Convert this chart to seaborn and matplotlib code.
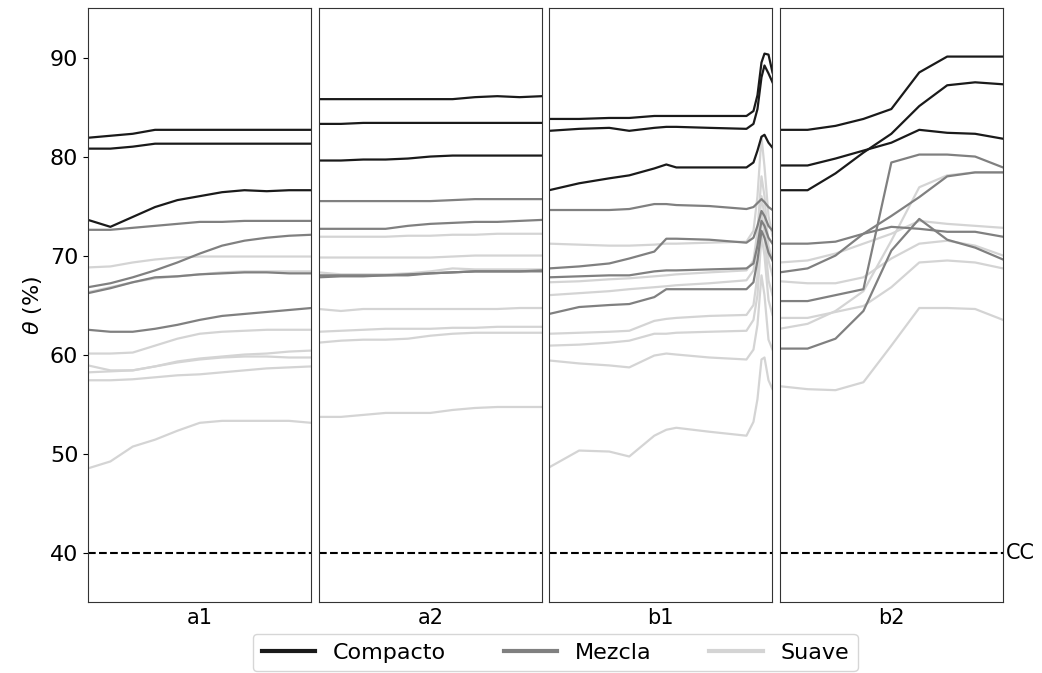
import pandas as pd
import matplotlib
matplotlib.use('Agg')
import matplotlib.pyplot as plt
import matplotlib.transforms as mtransforms
from matplotlib.lines import Line2D
import seaborn as sns

# x positions per panel
x_a1 = [0, 1, 2, 3, 4, 5, 6, 7, 8, 9, 10]
x_a2 = [0, 1, 2, 3, 4, 5, 6, 7, 8, 9, 10]
x_b1 = [0, 30, 60, 80, 105, 117, 127, 160, 197, 204, 208, 212, 215, 219, 223]
x_b2 = [0, 1, 2, 3, 4, 5, 6, 7, 8]

# panel a1
a1_compacto = [
    [81.9, 82.1, 82.3, 82.7, 82.7, 82.7, 82.7, 82.7, 82.7, 82.7, 82.7],
    [80.8, 80.8, 81.0, 81.3, 81.3, 81.3, 81.3, 81.3, 81.3, 81.3, 81.3],
    [73.6, 72.9, 73.9, 74.9, 75.6, 76.0, 76.4, 76.6, 76.5, 76.6, 76.6],
]
a1_mezcla = [
    [72.6, 72.6, 72.8, 73.0, 73.2, 73.4, 73.4, 73.5, 73.5, 73.5, 73.5],
    [66.8, 67.2, 67.8, 68.5, 69.3, 70.2, 71.0, 71.5, 71.8, 72.0, 72.1],
    [66.2, 66.7, 67.3, 67.8, 67.9, 68.1, 68.2, 68.3, 68.3, 68.2, 68.2],
    [62.5, 62.3, 62.3, 62.6, 63.0, 63.5, 63.9, 64.1, 64.3, 64.5, 64.7],
]
a1_suave = [
    [68.8, 68.9, 69.3, 69.6, 69.8, 69.9, 69.9, 69.9, 69.9, 69.9, 69.9],
    [66.3, 66.8, 67.3, 67.7, 67.9, 68.1, 68.3, 68.4, 68.4, 68.4, 68.4],
    [60.1, 60.1, 60.2, 60.9, 61.6, 62.1, 62.3, 62.4, 62.5, 62.5, 62.5],
    [58.9, 58.4, 58.4, 58.8, 59.2, 59.5, 59.7, 59.8, 59.8, 59.7, 59.7],
    [58.2, 58.3, 58.4, 58.8, 59.3, 59.6, 59.8, 60.0, 60.1, 60.3, 60.4],
    [57.4, 57.4, 57.5, 57.7, 57.9, 58.0, 58.2, 58.4, 58.6, 58.7, 58.8],
    [48.5, 49.2, 50.7, 51.4, 52.3, 53.1, 53.3, 53.3, 53.3, 53.3, 53.1],
]

# panel a2
a2_compacto = [
    [85.8, 85.8, 85.8, 85.8, 85.8, 85.8, 85.8, 86.0, 86.1, 86.0, 86.1],
    [83.3, 83.3, 83.4, 83.4, 83.4, 83.4, 83.4, 83.4, 83.4, 83.4, 83.4],
    [79.6, 79.6, 79.7, 79.7, 79.8, 80.0, 80.1, 80.1, 80.1, 80.1, 80.1],
]
a2_mezcla = [
    [75.5, 75.5, 75.5, 75.5, 75.5, 75.5, 75.6, 75.7, 75.7, 75.7, 75.7],
    [72.7, 72.7, 72.7, 72.7, 73.0, 73.2, 73.3, 73.4, 73.4, 73.5, 73.6],
    [68.0, 68.0, 68.0, 68.0, 68.1, 68.2, 68.3, 68.4, 68.4, 68.4, 68.4],
    [67.8, 67.9, 67.9, 68.0, 68.0, 68.2, 68.3, 68.4, 68.4, 68.4, 68.5],
]
a2_suave = [
    [71.9, 71.9, 71.9, 71.9, 72.0, 72.0, 72.1, 72.1, 72.2, 72.2, 72.2],
    [69.8, 69.8, 69.8, 69.8, 69.8, 69.8, 69.9, 70.0, 70.0, 70.0, 70.0],
    [68.3, 68.1, 68.1, 68.1, 68.2, 68.4, 68.7, 68.6, 68.6, 68.6, 68.6],
    [64.6, 64.4, 64.6, 64.6, 64.6, 64.6, 64.6, 64.6, 64.6, 64.7, 64.7],
    [62.3, 62.4, 62.5, 62.6, 62.6, 62.6, 62.7, 62.7, 62.8, 62.8, 62.8],
    [61.2, 61.4, 61.5, 61.5, 61.6, 61.9, 62.1, 62.2, 62.2, 62.2, 62.2],
    [53.7, 53.7, 53.9, 54.1, 54.1, 54.1, 54.4, 54.6, 54.7, 54.7, 54.7],
]

# panel b1
b1_compacto = [
    [83.8, 83.8, 83.9, 83.9, 84.1, 84.1, 84.1, 84.1, 84.1, 84.6, 86.2, 89.5, 90.4, 90.3, 88.5],
    [82.6, 82.8, 82.9, 82.6, 82.9, 83.0, 83.0, 82.9, 82.8, 83.3, 84.8, 88.0, 89.2, 88.4, 87.5],
    [76.6, 77.3, 77.8, 78.1, 78.8, 79.2, 78.9, 78.9, 78.9, 79.4, 80.6, 82.0, 82.2, 81.4, 80.9],
]
b1_mezcla = [
    [74.6, 74.6, 74.6, 74.7, 75.2, 75.2, 75.1, 75.0, 74.7, 74.9, 75.3, 75.7, 75.4, 74.9, 74.6],
    [68.7, 68.9, 69.2, 69.7, 70.4, 71.7, 71.7, 71.6, 71.3, 71.8, 73.0, 74.5, 74.0, 73.0, 72.5],
    [67.8, 67.9, 68.0, 68.0, 68.4, 68.5, 68.5, 68.6, 68.7, 69.2, 71.0, 73.5, 73.0, 71.8, 71.2],
    [64.1, 64.8, 65.0, 65.1, 65.8, 66.6, 66.6, 66.6, 66.6, 67.3, 69.5, 72.5, 71.8, 70.3, 69.5],
]
b1_suave = [
    [71.2, 71.1, 71.0, 71.0, 71.1, 71.2, 71.2, 71.3, 71.4, 72.5, 76.0, 82.0, 79.0, 74.0, 72.0],
    [67.3, 67.4, 67.6, 67.7, 67.9, 68.0, 68.1, 68.3, 68.5, 69.5, 72.5, 78.0, 76.0, 71.0, 69.5],
    [66.0, 66.2, 66.4, 66.6, 66.8, 66.9, 67.0, 67.2, 67.5, 68.5, 71.0, 76.0, 74.0, 69.5, 68.0],
    [62.1, 62.2, 62.3, 62.4, 63.4, 63.6, 63.7, 63.9, 64.0, 65.0, 68.0, 74.5, 72.0, 67.5, 66.0],
    [60.9, 61.0, 61.2, 61.4, 62.1, 62.1, 62.2, 62.3, 62.4, 63.5, 66.0, 72.0, 70.0, 65.5, 64.0],
    [59.4, 59.1, 58.9, 58.7, 59.9, 60.1, 60.0, 59.7, 59.5, 60.5, 63.0, 68.0, 66.0, 61.5, 60.5],
    [48.6, 50.3, 50.2, 49.7, 51.8, 52.4, 52.6, 52.2, 51.8, 53.2, 55.5, 59.5, 59.7, 57.4, 56.5],
]

# panel b2
b2_compacto = [
    [82.7, 82.7, 83.1, 83.8, 84.8, 88.5, 90.1, 90.1, 90.1],
    [79.1, 79.1, 79.8, 80.6, 81.4, 82.7, 82.4, 82.3, 81.8],
    [76.6, 76.6, 78.3, 80.4, 82.3, 85.1, 87.2, 87.5, 87.3],
]
b2_mezcla = [
    [71.2, 71.2, 71.4, 72.2, 72.9, 72.7, 72.4, 72.4, 71.9],
    [68.3, 68.7, 70.0, 72.2, 74.0, 75.9, 78.0, 78.4, 78.4],
    [65.4, 65.4, 66.0, 66.6, 79.4, 80.2, 80.2, 80.0, 78.9],
    [60.6, 60.6, 61.6, 64.4, 70.5, 73.7, 71.6, 70.8, 69.6],
]
b2_suave = [
    [69.3, 69.5, 70.2, 71.2, 72.2, 73.5, 73.2, 73.0, 72.8],
    [67.4, 67.2, 67.2, 67.8, 69.7, 71.2, 71.5, 71.0, 70.0],
    [63.7, 63.7, 64.3, 64.9, 66.8, 69.3, 69.5, 69.3, 68.7],
    [62.6, 63.1, 64.4, 66.4, 71.5, 76.9, 78.1, 78.4, 78.4],
    [56.8, 56.5, 56.4, 57.2, 60.9, 64.7, 64.7, 64.6, 63.5],
]

panels = ['a1', 'a2', 'b1', 'b2']
cc_value = 40

panel_data = {
    'a1': (x_a1, {'Compacto': a1_compacto, 'Mezcla': a1_mezcla, 'Suave': a1_suave}),
    'a2': (x_a2, {'Compacto': a2_compacto, 'Mezcla': a2_mezcla, 'Suave': a2_suave}),
    'b1': (x_b1, {'Compacto': b1_compacto, 'Mezcla': b1_mezcla, 'Suave': b1_suave}),
    'b2': (x_b2, {'Compacto': b2_compacto, 'Mezcla': b2_mezcla, 'Suave': b2_suave}),
}

# long format table
rows = []
for p in panels:
    xs, groups = panel_data[p]
    for tipo, lines in groups.items():
        for i, ys in enumerate(lines):
            for x, y in zip(xs, ys):
                rows.append({'panel': p, 'tipo': tipo, 'id': f'{tipo}{i}', 'x': x, 'theta': y})
df = pd.DataFrame(rows)

palette = {'Compacto': '#1a1a1a', 'Mezcla': '#808080', 'Suave': '#d4d4d4'}

fig, axes = plt.subplots(1, 4, figsize=(10.42, 6.73), dpi=100, sharey=True)
fig.subplots_adjust(left=0.0845, right=0.9626, top=0.988, bottom=0.1055, wspace=0.032)

for ax, p in zip(axes, panels):
    sub = df[df['panel'] == p]
    sns.lineplot(data=sub, x='x', y='theta', hue='tipo', units='id', estimator=None,
                 hue_order=['Suave', 'Mezcla', 'Compacto'], palette=palette,
                 linewidth=1.6, legend=False, ax=ax)
    ax.axhline(cc_value, color='black', linestyle='--', linewidth=1.5)
    ax.set_xlim(sub['x'].min(), sub['x'].max())
    ax.set_xticks([])
    ax.set_xlabel(p, fontsize=15)
    ax.set_ylabel('')
    for s in ax.spines.values():
        s.set_color('#333333')

axes[0].set_ylim(35, 95)
axes[0].set_yticks([40, 50, 60, 70, 80, 90])
axes[0].tick_params(axis='y', labelsize=16)
axes[0].set_ylabel(r'$\theta$ (%)', fontsize=16)
for ax in axes[1:]:
    ax.tick_params(axis='y', left=False)

trans = mtransforms.blended_transform_factory(axes[3].transAxes, axes[3].transData)
axes[3].text(1.012, cc_value, 'CC', transform=trans, ha='left', va='center', fontsize=15)

handles = [Line2D([0], [0], color=palette[t], linewidth=3) for t in ['Compacto', 'Mezcla', 'Suave']]
fig.legend(handles, ['Compacto', 'Mezcla', 'Suave'], loc='upper center',
           bbox_to_anchor=(0.533, 0.075), ncol=3, fontsize=16, frameon=True,
           columnspacing=2.6, handlelength=2.4)

plt.savefig('out.png', dpi=100)
